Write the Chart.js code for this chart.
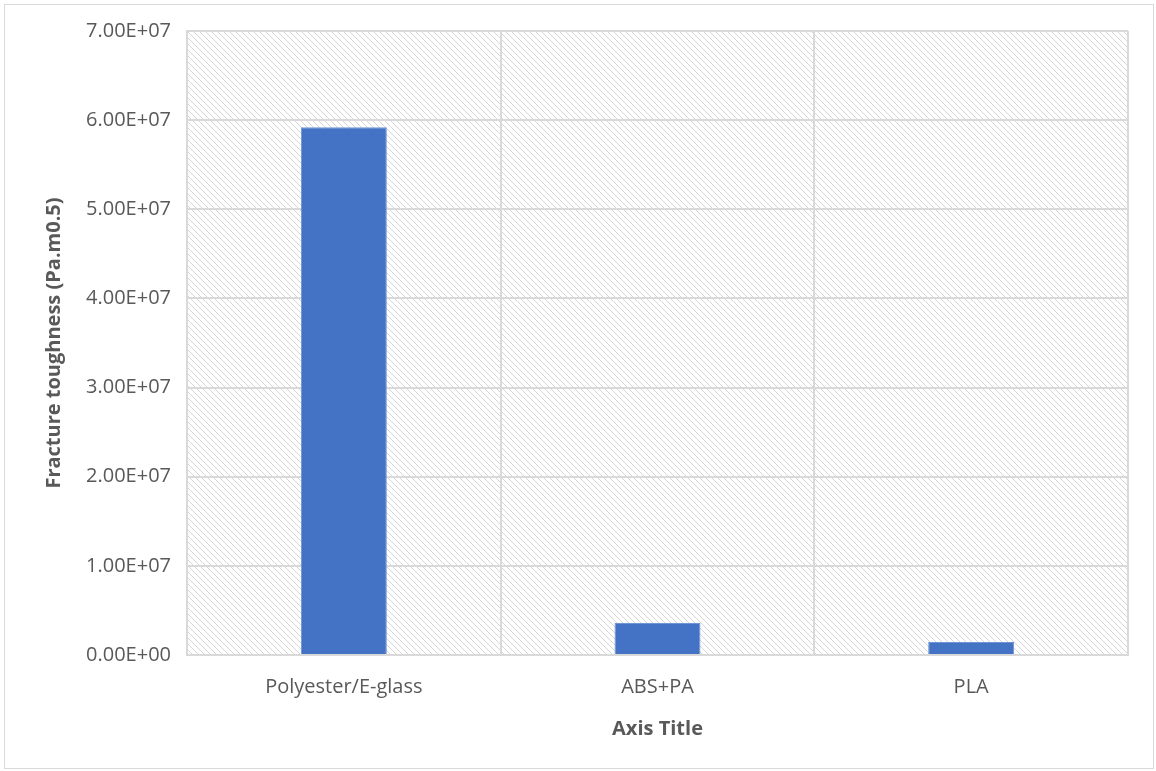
<!DOCTYPE html>
<html>
<head>
<meta charset="utf-8">
<script src="https://cdn.jsdelivr.net/npm/chart.js@4.4.1/dist/chart.umd.min.js"></script>
<style>
    html, body { margin: 0; padding: 0; background: #fff; }
    #frame {
        position: absolute; left: 4px; top: 4px;
        width: 1150px; height: 765px;
        border: 1px solid #d9d9d9; box-sizing: border-box;
    }
    #wrap { position: absolute; left: 0; top: 0; width: 1156px; height: 771px; }
</style>
</head>
<body>
<div id="frame"></div>
<div id="wrap"><canvas id="chart"></canvas></div>
<script>
const categories = ['Polyester/E-glass', 'ABS+PA', 'PLA'];
const toughness = [5.92e7, 3.6e6, 1.45e6];
const yTicks = [0, 1e7, 2e7, 3e7, 4e7, 5e7, 6e7, 7e7];

const gridColor = '#d9d9d9';
const textColor = '#595959';
const fontFamily = 'Open Sans';

// diagonal hatch tile for the plot area
function hatchPattern(ctx) {
    const tile = document.createElement('canvas');
    tile.width = 6;
    tile.height = 6;
    const t = tile.getContext('2d');
    t.fillStyle = '#d6d6d6';
    for (let i = 0; i < 6; i++) {
        t.fillRect(i, i, 1, 1);
    }
    return ctx.createPattern(tile, 'repeat');
}

const hatchBackground = {
    id: 'hatchBackground',
    beforeDraw: (chart) => {
        const { ctx, chartArea } = chart;
        ctx.save();
        ctx.fillStyle = hatchPattern(ctx);
        ctx.fillRect(chartArea.left, chartArea.top,
            chartArea.right - chartArea.left, chartArea.bottom - chartArea.top);
        ctx.restore();
    }
};

// scientific labels like 7.00E+07
function sciLabel(value) {
    return value.toExponential(2).toUpperCase().replace(/E([+-])(\d)$/, 'E$10$2');
}

const config = {
    type: 'bar',
    data: {
        labels: categories,
        datasets: [{
            data: toughness,
            backgroundColor: '#4472c4',
            borderColor: '#6f93d3',
            borderWidth: 1,
            categoryPercentage: 1,
            barPercentage: 0.274
        }]
    },
    options: {
        responsive: true,
        maintainAspectRatio: false,
        animation: false,
        layout: { padding: { left: 42, right: 28, top: 31, bottom: 30 } },
        plugins: {
            legend: { display: false },
            tooltip: { enabled: false }
        },
        scales: {
            x: {
                afterFit: (axis) => { axis.height = 86; },
                grid: {
                    color: gridColor,
                    lineWidth: 2,
                    offset: true,
                    drawTicks: false
                },
                border: { color: gridColor, width: 2 },
                ticks: {
                    color: textColor,
                    padding: 20,
                    font: { family: fontFamily, size: 20 }
                },
                title: {
                    display: true,
                    text: 'Axis Title',
                    color: textColor,
                    padding: { top: 0, bottom: 0 },
                    font: { family: fontFamily, size: 20, weight: 'bold' }
                }
            },
            y: {
                min: 0,
                max: 7e7,
                afterBuildTicks: (axis) => {
                    axis.ticks = yTicks.map(v => ({ value: v }));
                },
                afterFit: (axis) => { axis.width = 145; },
                grid: {
                    color: gridColor,
                    lineWidth: 2,
                    drawTicks: false
                },
                border: { color: gridColor, width: 2 },
                ticks: {
                    color: textColor,
                    padding: 16,
                    font: { family: fontFamily, size: 20 },
                    callback: (value) => sciLabel(value)
                },
                title: {
                    display: true,
                    text: 'Fracture toughness (Pa.m0.5)',
                    color: textColor,
                    padding: { top: 0, bottom: 0 },
                    font: { family: fontFamily, size: 20, weight: 'bold' }
                }
            }
        }
    },
    plugins: [hatchBackground]
};

new Chart(document.getElementById('chart'), config);
</script>
</body>
</html>
